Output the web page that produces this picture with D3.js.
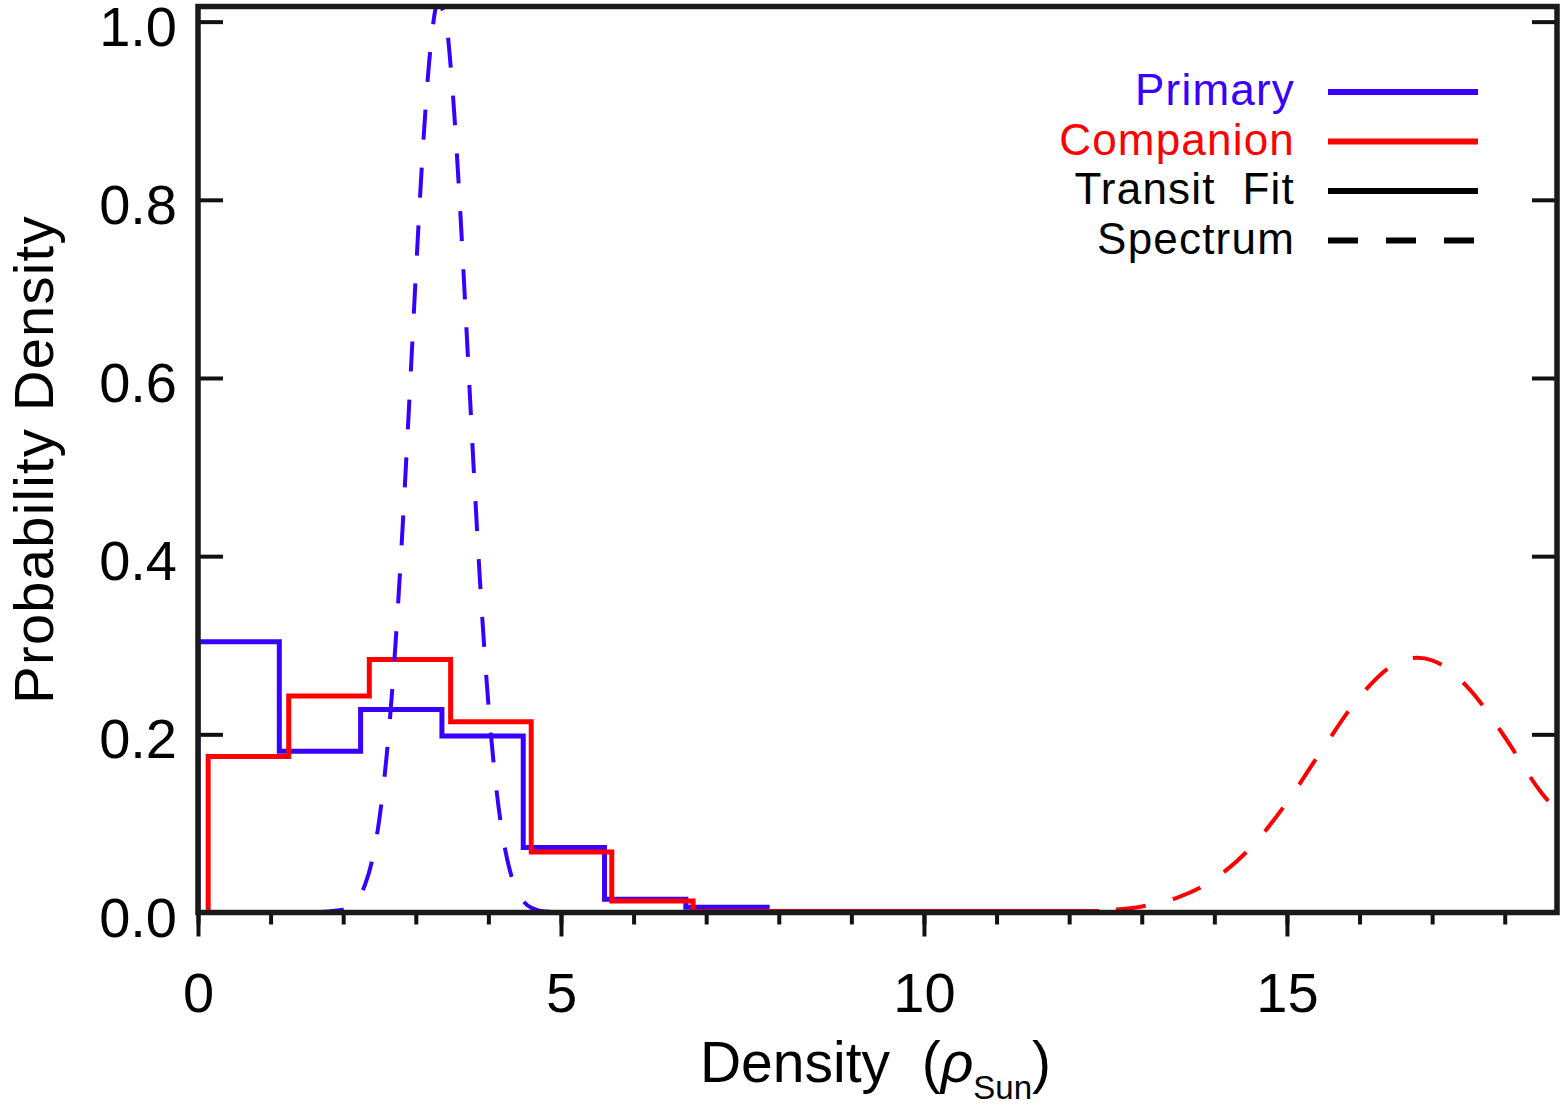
<!DOCTYPE html>
<html>
<head>
<meta charset="utf-8">
<script src="https://cdn.jsdelivr.net/npm/d3@7"></script>
<style>
  html, body { margin: 0; padding: 0; background: #fff; }
  svg { display: block; }
  text { font-family: "Liberation Sans", Arial, sans-serif; fill: #000; }
</style>
</head>
<body>
<svg id="chart" width="1562" height="1108"></svg>
<script>
// ---------------- data ----------------
const xDomain = [0, 18.72];
const yDomain = [0, 1.017];
const yTicks = [0, 0.2, 0.4, 0.6, 0.8, 1.0];
const xMajorTicks = [0, 5, 10, 15];
const xMinorTicks = [0,1,2,3,4,5,6,7,8,9,10,11,12,13,14,15,16,17,18];

// Primary (blue) transit-fit histogram: bin edges and heights
const primaryEdges  = [0, 1.12, 2.24, 3.36, 4.48, 5.60, 6.72, 7.84];
const primaryValues = [0.304, 0.181, 0.228, 0.198, 0.073, 0.015, 0.006];

// Companion (red) transit-fit histogram
const companionEdges  = [0.14, 1.25, 2.36, 3.48, 4.59, 5.70, 6.82, 7.93, 9.04, 10.16, 11.27, 12.38];
const companionValues = [0.175, 0.243, 0.284, 0.214, 0.068, 0.013, 0.001, 0.001, 0.001, 0.001, 0.001];

// Primary (blue) spectroscopic density curve (dashed)
const primarySpecX = [0, 1.5, 2.0, 2.1, 2.2, 2.3, 2.4, 2.5, 2.6, 2.7, 2.8, 2.9, 3.0, 3.1, 3.2, 3.3, 3.4, 3.5, 3.6, 3.7, 3.8, 3.9, 4.0, 4.1, 4.2, 4.3, 4.4, 4.5, 4.6, 4.7, 4.8, 5.0, 6.0, 18.72];
const primarySpecY = [0, 0, 0.003, 0.007, 0.015, 0.031, 0.059, 0.106, 0.177, 0.277, 0.406, 0.557, 0.715, 0.860, 0.968, 1.020, 1.007, 0.930, 0.805, 0.652, 0.495, 0.351, 0.234, 0.146, 0.085, 0.046, 0.024, 0.011, 0.005, 0.002, 0.001, 0, 0, 0];

// Companion (red) spectroscopic density curve (dashed)
const companionSpecX = [0, 11.0, 12.0, 12.5, 13.0, 13.5, 14.0, 14.5, 15.0, 15.5, 16.0, 16.5, 16.8, 17.0, 17.5, 18.0, 18.5, 18.72];
const companionSpecY = [0, 0, 0.0007, 0.0024, 0.0068, 0.017, 0.0375, 0.0727, 0.1236, 0.1846, 0.242, 0.2795, 0.286, 0.2831, 0.252, 0.197, 0.135, 0.114];

const legendLabels = ["Primary", "Companion", "Transit  Fit", "Spectrum"];
const legendColors = ["#3a00ff", "#ff0000", "#000000", "#000000"];
const legendDashed = [false, false, false, true];

// ---------------- layout ----------------
const BLUE = "#3a00ff", RED = "#ff0000";
const pLeft = 198, pRight = 1557, pTop = 6.5, pBottom = 912.5;

const svg = d3.select("#chart");
const x = d3.scaleLinear().domain(xDomain).range([pLeft, pRight]);
const y = d3.scaleLinear().domain(yDomain).range([pBottom, pTop]);

svg.append("defs").append("clipPath").attr("id", "plotclip")
  .append("rect").attr("x", pLeft).attr("y", pTop).attr("width", pRight - pLeft).attr("height", pBottom - pTop);

const plot = svg.append("g").attr("clip-path", "url(#plotclip)");

function histPoints(edges, values) {
  const pts = [[edges[0], 0]];
  values.forEach((v, i) => pts.push([edges[i], v]));
  pts.push([edges[edges.length - 1], 0]);
  return pts;
}
const stepLine = d3.line().x(d => x(d[0])).y(d => y(d[1])).curve(d3.curveStepAfter);

plot.append("path")
  .attr("d", stepLine(histPoints(primaryEdges, primaryValues)))
  .attr("fill", "none").attr("stroke", BLUE).attr("stroke-width", 5).attr("stroke-linejoin", "miter");

plot.append("path")
  .attr("d", stepLine(histPoints(companionEdges, companionValues)))
  .attr("fill", "none").attr("stroke", RED).attr("stroke-width", 5).attr("stroke-linejoin", "miter");

const smooth = d3.line().x(d => x(d[0])).y(d => y(d[1])).curve(d3.curveMonotoneX);

plot.append("path")
  .attr("d", smooth(primarySpecX.map((v, i) => [v, primarySpecY[i]])))
  .attr("fill", "none").attr("stroke", BLUE).attr("stroke-width", 4)
  .attr("stroke-dasharray", "30,28");

plot.append("path")
  .attr("d", smooth(companionSpecX.map((v, i) => [v, companionSpecY[i]])))
  .attr("fill", "none").attr("stroke", RED).attr("stroke-width", 4)
  .attr("stroke-dasharray", "30,28").attr("stroke-dashoffset", 10);

// ---------------- axes ----------------
const fmt = d3.format(".1f");
const yAxisL = svg.append("g").attr("transform", `translate(${pLeft},0)`)
  .call(d3.axisLeft(y).tickValues(yTicks).tickFormat(fmt).tickSize(-25).tickPadding(21));
const yAxisR = svg.append("g").attr("transform", `translate(${pRight},0)`)
  .call(d3.axisRight(y).tickValues(yTicks).tickFormat("").tickSize(-25));
const xAxisMinor = svg.append("g").attr("transform", `translate(0,${pBottom})`)
  .call(d3.axisBottom(x).tickValues(xMinorTicks).tickFormat("").tickSize(12));
const xAxisMajor = svg.append("g").attr("transform", `translate(0,${pBottom})`)
  .call(d3.axisBottom(x).tickValues(xMajorTicks).tickFormat(d3.format("d")).tickSize(24).tickPadding(36));

[yAxisL, yAxisR, xAxisMinor, xAxisMajor].forEach(g => {
  g.select(".domain").remove();
  g.selectAll(".tick line").attr("stroke", "#111").attr("stroke-width", 4);
  g.selectAll(".tick text").style("font-size", "56px").style("font-family", "'Liberation Sans', Arial, sans-serif").attr("fill", "#000");
});
yAxisL.selectAll(".tick text").attr("dy", "0.42em");

// frame
svg.append("rect").attr("x", pLeft).attr("y", pTop).attr("width", pRight - pLeft).attr("height", pBottom - pTop)
  .attr("fill", "none").attr("stroke", "#1a1a1a").attr("stroke-width", 5.5);

// ---------------- titles ----------------
const xt = svg.append("text").attr("x", (pLeft + pRight) / 2 - 2).attr("y", 1082)
  .attr("text-anchor", "middle").style("font-size", "57px").attr("xml:space", "preserve");
xt.append("tspan").text("Density  (");
xt.append("tspan").style("font-style", "italic").text("ρ");
xt.append("tspan").attr("dy", 17).style("font-size", "33px").text("Sun");
xt.append("tspan").attr("dy", -17).text(")");

svg.append("text")
  .attr("transform", `translate(53,${(pTop + pBottom) / 2}) rotate(-90)`)
  .attr("text-anchor", "middle").style("font-size", "56px").style("letter-spacing", "1.3px")
  .text("Probability Density");

// ---------------- legend ----------------
const legend = svg.append("g");
legendLabels.forEach((lab, i) => {
  const yy = 92 + i * 49.5;
  legend.append("text").attr("x", 1295).attr("y", yy + 13).attr("text-anchor", "end")
    .attr("xml:space", "preserve")
    .style("font-size", "44px").style("letter-spacing", "1.2px")
    .style("fill", legendColors[i]).text(lab);
  legend.append("line").attr("x1", 1328).attr("x2", 1478).attr("y1", yy).attr("y2", yy)
    .attr("stroke", legendColors[i]).attr("stroke-width", 6)
    .attr("stroke-dasharray", legendDashed[i] ? "30,28" : null);
});
</script>
</body>
</html>
